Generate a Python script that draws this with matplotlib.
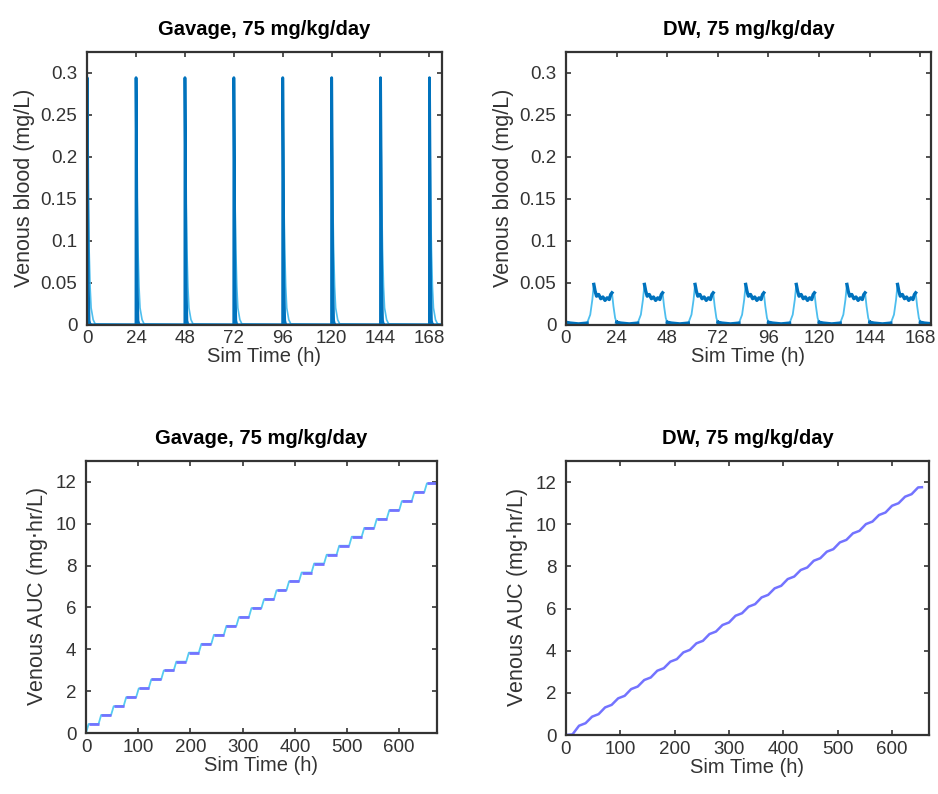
import numpy as np
import matplotlib.pyplot as plt
from matplotlib.ticker import FormatStrFormatter

plt.rcParams['font.family'] = ['Liberation Sans', 'DejaVu Sans']

# dose times (h) for the gavage week
gav_dose_t = [0, 24, 48, 72, 96, 120, 144, 168]
# concentration after one gavage dose (h after dose, mg/L)
gav_rel_t = [0.0, 0.05, 0.3, 0.6, 1.0, 1.5, 2.0, 3.0, 4.0]
gav_light = [0.0, 0.294, 0.22, 0.15, 0.09, 0.045, 0.02, 0.006, 0.001]
gav_dark = [0.0, 0.294, 0.20, 0.05, 0.005, 0.0, 0.0, 0.0, 0.0]

# drinking water: one day profile (hour of day, mg/L)
dw_hour = [0, 2, 6, 10, 11.5, 12.5, 13.2, 13.8, 14.5, 15.5, 16.5, 17.5,
           18.5, 19.5, 20.5, 21.2, 21.8, 22.5, 23.3]
dw_conc = [0.003, 0.002, 0.001, 0.002, 0.012, 0.030, 0.048, 0.040, 0.034,
           0.036, 0.031, 0.033, 0.029, 0.032, 0.030, 0.036, 0.038, 0.022, 0.008]
dw_is_dark = [1, 1, 1, 1, 0, 0, 1, 1, 1, 1, 1, 1, 1, 1, 1, 1, 1, 0, 0]
dw_days = [0, 24, 48, 72, 96, 120, 144, 168]

# gavage AUC plateaus after each daily dose (mg*h/L)
auc_dose_t = [0, 24, 48, 72, 96, 120, 144, 168, 192, 216, 240, 264, 288, 312,
              336, 360, 384, 408, 432, 456, 480, 504, 528, 552, 576, 600, 624, 648]
auc_gav = [0.43, 0.86, 1.28, 1.71, 2.13, 2.56, 2.99, 3.41, 3.84, 4.26, 4.69,
           5.12, 5.54, 5.97, 6.39, 6.82, 7.25, 7.67, 8.10, 8.52, 8.95, 9.38,
           9.80, 10.23, 10.65, 11.08, 11.51, 11.93]

# drinking water AUC: start and middle of each day
auc_dw_day0 = [0.00, 0.44, 0.87, 1.31, 1.74, 2.18, 2.61, 3.05, 3.48, 3.92,
               4.35, 4.79, 5.22, 5.66, 6.09, 6.53, 6.96, 7.40, 7.83, 8.27,
               8.70, 9.14, 9.57, 10.01, 10.44, 10.88, 11.31, 11.75]
auc_dw_day12 = [0.03, 0.56, 0.99, 1.43, 1.86, 2.30, 2.73, 3.17, 3.60, 4.04,
                4.47, 4.91, 5.34, 5.78, 6.21, 6.65, 7.08, 7.52, 7.95, 8.39,
                8.82, 9.26, 9.69, 10.13, 10.56, 11.00, 11.43]
auc_dw_end = (655, 11.76)

DARK = '#0072BD'
LIGHT = '#4DBEEE'
BLUE = '#7373FF'
CYAN = '#55CCF0'
AX = '#333333'
TXT = '#333333'

fig = plt.figure(figsize=(9.38, 7.94), dpi=100)
pos = {
    'tl': [0.0928, 0.591, 0.378, 0.344],
    'tr': [0.6034, 0.591, 0.389, 0.344],
    'bl': [0.0917, 0.0768, 0.374, 0.3426],
    'br': [0.6034, 0.0743, 0.387, 0.345],
}
axes = {k: fig.add_axes(v) for k, v in pos.items()}


def style(ax, title, ylabel):
    for s in ax.spines.values():
        s.set_color(AX)
        s.set_linewidth(1.6)
    ax.tick_params(direction='in', top=True, right=True, length=3.5,
                   width=1.2, color=AX, labelsize=13.5, labelcolor=TXT)
    ax.tick_params(axis='x', pad=4)
    ax.tick_params(axis='y', pad=7)
    ax.set_title(title, fontsize=14.5, fontweight='bold', pad=12)
    ax.set_xlabel('Sim Time (h)', fontsize=14.5, labelpad=0, color=TXT)
    ax.set_ylabel(ylabel, fontsize=15.5, color=TXT, labelpad=4)


# gavage concentration
t_l, c_l, t_d, c_d = [], [], [], []
for d in gav_dose_t:
    t_l += [d + r for r in gav_rel_t]
    c_l += gav_light
    t_d += [d + r for r in gav_rel_t]
    c_d += gav_dark
t_l.append(174); c_l.append(0.0)
t_d.append(174); c_d.append(0.0)
ax = axes['tl']
ax.plot(t_l, c_l, color=LIGHT, lw=1.2)
ax.plot(t_d, c_d, color=DARK, lw=2.0)
ax.set_xlim(0, 174)
ax.set_ylim(0, 0.325)
ax.set_xticks(gav_dose_t)
ax.set_yticks([0, 0.05, 0.1, 0.15, 0.2, 0.25, 0.3])
ax.yaxis.set_major_formatter(FormatStrFormatter('%g'))
style(ax, 'Gavage, 75 mg/kg/day', 'Venous blood (mg/L)')

# drinking water concentration
t_all, c_all, c_dk = [], [], []
for d in dw_days:
    for h, c, k in zip(dw_hour, dw_conc, dw_is_dark):
        t_all.append(d + h)
        c_all.append(c)
        c_dk.append(c if k else np.nan)
ax = axes['tr']
ax.plot(t_all, c_all, color=LIGHT, lw=1.3)
ax.plot(t_all, c_dk, color=DARK, lw=2.4)
ax.set_xlim(0, 173)
ax.set_ylim(0, 0.325)
ax.set_xticks(gav_dose_t)
ax.set_yticks([0, 0.05, 0.1, 0.15, 0.2, 0.25, 0.3])
ax.yaxis.set_major_formatter(FormatStrFormatter('%g'))
style(ax, 'DW, 75 mg/kg/day', 'Venous blood (mg/L)')

# gavage AUC
ts, vs = [0], [0.0]
prev = 0.0
for d, v in zip(auc_dose_t, auc_gav):
    ts += [d, d + 2.5, d + 5]
    vs += [prev, (prev + v) / 2, v]
    prev = v
ts.append(672); vs.append(prev)
ax = axes['bl']
ax.plot(ts, vs, color=CYAN, lw=1.3)
ends = auc_dose_t[1:] + [672]
ax.hlines(auc_gav, [d + 5 for d in auc_dose_t], ends, color=BLUE, lw=2.0)
ax.set_xlim(0, 672)
ax.set_ylim(0, 13)
ax.set_xticks([0, 100, 200, 300, 400, 500, 600])
ax.set_yticks([0, 2, 4, 6, 8, 10, 12])
style(ax, 'Gavage, 75 mg/kg/day', 'Venous AUC (mg$\\cdot$hr/L)')

# drinking water AUC
ts, vs = [], []
for i, v in enumerate(auc_dw_day0):
    ts.append(24 * i); vs.append(v)
    if i < len(auc_dw_day12):
        ts.append(24 * i + 12); vs.append(auc_dw_day12[i])
ts.append(auc_dw_end[0]); vs.append(auc_dw_end[1])
ax = axes['br']
ax.plot(ts, vs, color=BLUE, lw=1.8)
ax.set_xlim(0, 668)
ax.set_ylim(0, 13)
ax.set_xticks([0, 100, 200, 300, 400, 500, 600])
ax.set_yticks([0, 2, 4, 6, 8, 10, 12])
style(ax, 'DW, 75 mg/kg/day', 'Venous AUC (mg$\\cdot$hr/L)')

fig.savefig('out.png', dpi=100)
